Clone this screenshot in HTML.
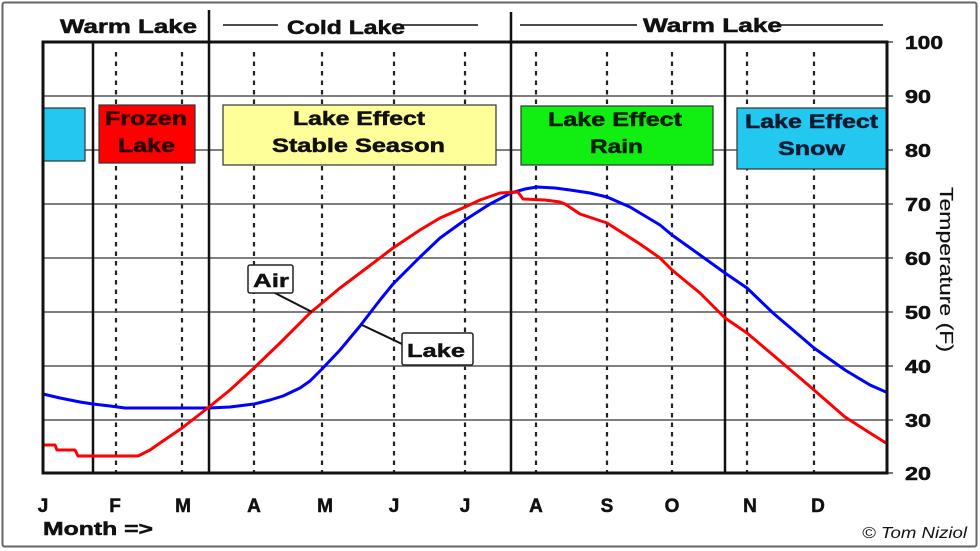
<!DOCTYPE html>
<html>
<head>
<meta charset="utf-8">
<style>
  html,body{margin:0;padding:0;background:#fff;}
  svg{display:block;}
  text{font-family:"Liberation Sans", sans-serif;}
</style>
</head>
<body>
<svg width="980" height="551" viewBox="0 0 980 551" xmlns="http://www.w3.org/2000/svg">
  <rect x="0" y="0" width="980" height="551" fill="#fff"/>
  <rect x="2.5" y="2.5" width="974" height="544" fill="none" stroke="#666" stroke-width="2" rx="2"/>

  <g stroke="#222" stroke-width="2.2" stroke-dasharray="4.5 5">
    <line x1="116" y1="52" x2="116" y2="473"/>
    <line x1="182" y1="52" x2="182" y2="473"/>
    <line x1="254" y1="52" x2="254" y2="473"/>
    <line x1="322" y1="52" x2="322" y2="473"/>
    <line x1="394" y1="52" x2="394" y2="473"/>
    <line x1="465" y1="52" x2="465" y2="473"/>
    <line x1="536" y1="52" x2="536" y2="473"/>
    <line x1="607" y1="52" x2="607" y2="473"/>
    <line x1="672" y1="52" x2="672" y2="473"/>
    <line x1="747" y1="52" x2="747" y2="473"/>
    <line x1="814" y1="52" x2="814" y2="473"/>
  </g>

  <g stroke="#555" stroke-width="1.6">
    <line x1="43" y1="96" x2="893" y2="96"/>
    <line x1="43" y1="150" x2="893" y2="150"/>
    <line x1="43" y1="204" x2="893" y2="204"/>
    <line x1="43" y1="258" x2="893" y2="258"/>
    <line x1="43" y1="312" x2="893" y2="312"/>
    <line x1="43" y1="366" x2="893" y2="366"/>
    <line x1="43" y1="420" x2="893" y2="420"/>
    <line x1="887" y1="42" x2="893" y2="42"/>
    <line x1="887" y1="473" x2="893" y2="473"/>
  </g>

  <g stroke="#111" stroke-width="2.5">
    <line x1="93" y1="42" x2="93" y2="473"/>
    <line x1="209" y1="10" x2="209" y2="473"/>
    <line x1="511" y1="12" x2="511" y2="473"/>
    <line x1="725" y1="42" x2="725" y2="473"/>
  </g>

  <g stroke="#111" stroke-width="1.6">
    <line x1="223" y1="25" x2="278" y2="25"/>
    <line x1="400" y1="25" x2="478" y2="25"/>
    <line x1="520" y1="25" x2="637" y2="25"/>
    <line x1="780" y1="25" x2="883" y2="25"/>
  </g>
  <g font-weight="bold" font-size="19" fill="#111" stroke="#111" stroke-width="0.5">
    <text x="60" y="33" textLength="137" lengthAdjust="spacingAndGlyphs">Warm Lake</text>
    <text x="287" y="34" textLength="118" lengthAdjust="spacingAndGlyphs">Cold Lake</text>
    <text x="643" y="32" textLength="139" lengthAdjust="spacingAndGlyphs">Warm Lake</text>
  </g>

  <g stroke="#333" stroke-width="1.2">
    <rect x="43" y="108" width="42" height="53" fill="#22c8f0"/>
    <rect x="99" y="105" width="96" height="58" fill="#ff0000"/>
    <rect x="223" y="105" width="273" height="60" fill="#ffff99"/>
    <rect x="521" y="106" width="192" height="59" fill="#11ee11"/>
    <rect x="737" y="108" width="150" height="61" fill="#22c8f0"/>
  </g>
  <g font-weight="bold" font-size="19" stroke-width="0.5">
    <text x="105" y="125" fill="#2a0000" stroke="#2a0000" textLength="82" lengthAdjust="spacingAndGlyphs">Frozen</text>
    <text x="118" y="152" fill="#2a0000" stroke="#2a0000" textLength="57" lengthAdjust="spacingAndGlyphs">Lake</text>
    <text x="293" y="125" fill="#111" stroke="#111" textLength="132" lengthAdjust="spacingAndGlyphs">Lake Effect</text>
    <text x="272" y="152" fill="#111" stroke="#111" textLength="173" lengthAdjust="spacingAndGlyphs">Stable Season</text>
    <text x="548" y="126" fill="#062006" stroke="#062006" textLength="134" lengthAdjust="spacingAndGlyphs">Lake Effect</text>
    <text x="590" y="153" fill="#062006" stroke="#062006" textLength="53" lengthAdjust="spacingAndGlyphs">Rain</text>
    <text x="745" y="128" fill="#0a1a30" stroke="#0a1a30" textLength="133" lengthAdjust="spacingAndGlyphs">Lake Effect</text>
    <text x="778" y="155" fill="#0a1a30" stroke="#0a1a30" textLength="67" lengthAdjust="spacingAndGlyphs">Snow</text>
  </g>

  <polyline fill="none" stroke="#0000ff" stroke-width="3" stroke-linejoin="round"
    points="43,394 60,398 80,402 93,404 110,406 125,408 209,408 230,407 254,404 270,400 283,396 300,388 310,381 322,369 340,350 360,326 380,300 393,284 420,257 440,238 465,220 490,204 511,193 525,189 537,187 555,188 570,190 590,193 607,197 630,207 640,213 660,225 672,235 700,255 725,273 747,288 773,313 800,336 814,348 845,370 870,385 886,392"/>
  <polyline fill="none" stroke="#ff0000" stroke-width="3" stroke-linejoin="round"
    points="43,445 55,445 57,450 75,450 78,456 138,456 150,450 160,443 182,428 200,414 209,407 230,390 254,368 280,343 310,313 322,303 340,288 360,273 393,248 420,230 440,218 465,207 480,200 500,193 518,192 523,199 545,200 560,202 565,204 580,214 607,223 640,244 660,258 672,270 700,293 725,318 747,333 773,355 800,378 814,390 845,417 870,433 886,443"/>

  <line x1="273" y1="292" x2="312" y2="312" stroke="#111" stroke-width="2"/>
  <rect x="248" y="265" width="45" height="28" fill="#fff" stroke="#222" stroke-width="1.5" rx="2"/>
  <text x="253" y="287" font-weight="bold" font-size="18" fill="#111" stroke="#111" stroke-width="0.4" textLength="36" lengthAdjust="spacingAndGlyphs">Air</text>
  <line x1="362" y1="325" x2="402" y2="344" stroke="#111" stroke-width="2"/>
  <rect x="402" y="333" width="71" height="32" fill="#fff" stroke="#222" stroke-width="1.5" rx="2"/>
  <text x="407" y="357" font-weight="bold" font-size="18" fill="#111" stroke="#111" stroke-width="0.4" textLength="58" lengthAdjust="spacingAndGlyphs">Lake</text>

  <rect x="43" y="42" width="844" height="431" fill="none" stroke="#111" stroke-width="3"/>

  <g font-weight="bold" font-size="18" fill="#111" stroke="#111" stroke-width="0.5">
    <text x="905" y="49" textLength="38" lengthAdjust="spacingAndGlyphs">100</text>
    <text x="905" y="103" textLength="26" lengthAdjust="spacingAndGlyphs">90</text>
    <text x="905" y="157" textLength="26" lengthAdjust="spacingAndGlyphs">80</text>
    <text x="905" y="211" textLength="26" lengthAdjust="spacingAndGlyphs">70</text>
    <text x="905" y="265" textLength="26" lengthAdjust="spacingAndGlyphs">60</text>
    <text x="905" y="319" textLength="26" lengthAdjust="spacingAndGlyphs">50</text>
    <text x="905" y="373" textLength="26" lengthAdjust="spacingAndGlyphs">40</text>
    <text x="905" y="427" textLength="26" lengthAdjust="spacingAndGlyphs">30</text>
    <text x="905" y="480" textLength="26" lengthAdjust="spacingAndGlyphs">20</text>
  </g>
  <text transform="translate(940,187) rotate(90)" x="0" y="0" font-size="18" fill="#111" stroke="#111" stroke-width="0.2" textLength="165" lengthAdjust="spacingAndGlyphs">Temperature (F)</text>

  <g font-weight="bold" font-size="19" fill="#111" stroke="#111" stroke-width="0.5" text-anchor="middle">
    <text x="43" y="512">J</text>
    <text x="115" y="512">F</text>
    <text x="183" y="512">M</text>
    <text x="254" y="512">A</text>
    <text x="325" y="512">M</text>
    <text x="394" y="512">J</text>
    <text x="465" y="512">J</text>
    <text x="536" y="512">A</text>
    <text x="607" y="512">S</text>
    <text x="672" y="512">O</text>
    <text x="750" y="512">N</text>
    <text x="818" y="512">D</text>
  </g>
  <text x="43" y="535" font-weight="bold" font-size="18" fill="#111" stroke="#111" stroke-width="0.5" textLength="110" lengthAdjust="spacingAndGlyphs">Month =&gt;</text>
  <text x="862" y="538" font-style="italic" font-size="16" fill="#111" textLength="105" lengthAdjust="spacingAndGlyphs">© Tom Niziol</text>
</svg>
</body>
</html>
